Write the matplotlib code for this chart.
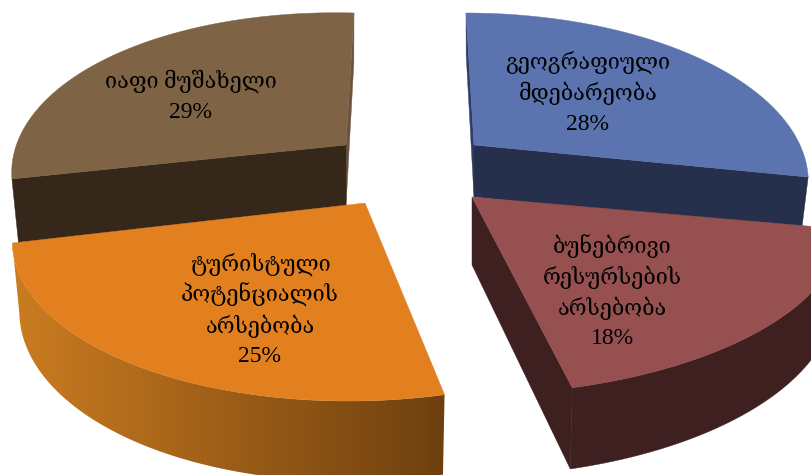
import numpy as np
import matplotlib
matplotlib.use('Agg')
import matplotlib.pyplot as plt
from matplotlib.colors import LinearSegmentedColormap
from matplotlib.patches import Polygon

labels = ['გეოგრაფიული\nმდებარეობა', 'ბუნებრივი\nრესურსების\nარსებობა',
          'ტურისტული\nპოტენციალის\nარსებობა', 'იაფი მუშახელი']
values = [28, 18, 25, 29]

top_colors = ['#5b74af', '#95504f', '#e28020', '#7f6345']
side_colors = ['#262f4b', '#3e2020', '#6e400f', '#36271b']
cut_colors = ['#2f3d66', '#3e2020', '#6e400f', '#6b5340']

# per slice layout: apex x, apex y, rx, shear, tilt, depth
layout = [
	(474, 145, 326, -10, 0, 52),
	(472, 197, 365, 7, 0, 68),
	(365, 203, 342, 19, 3, 67),
	(346, 145, 326, 10, 9, 62),
]
label_pos = [(588, 62), (612, 246), (260, 264), (191, 81)]
RY = 165
K = 0.2
LINE = 31
INSET = 0.98

def rim(theta, lay, lower=False):
	cx, cy, rx, sh, tilt, depth = lay
	c, s = np.cos(theta), np.sin(theta)
	scale = 1 - K * c
	x = (rx * s + sh * c) * scale
	y = (-RY * c + tilt * s) * scale
	if lower:
		return cx + x * INSET, cy + y + depth * scale
	return cx + x, cy + y

def pts(theta, lay, lower=False):
	x, y = rim(theta, lay, lower)
	return np.column_stack([x, y])

fig = plt.figure(figsize=(8.12, 4.75), dpi=100)
ax = fig.add_axes([0, 0, 1, 1])
ax.axis('off')

edges = np.radians(np.cumsum([0] + values) * 3.6)

def apex(lay, lower=False):
	return np.array([[lay[0], lay[1] + (lay[5] if lower else 0)]])

def cut_face(th, lay, color, z):
	th = np.array([th])
	poly = np.vstack([apex(lay), pts(th, lay), pts(th, lay, True), apex(lay, True)])
	ax.add_patch(Polygon(poly, closed=True, fc=color, ec=color, lw=0.3, zorder=z))

def draw_slice(i, z):
	lay = layout[i]
	a, b = edges[i], edges[i + 1]
	th = np.linspace(a, b, 160)
	wall = np.vstack([pts(th, lay), pts(th, lay, True)[::-1]])
	if i == 0:
		cut_face(a, lay, cut_colors[i], z)
		cut_face(b, lay, side_colors[i], z)
	elif i == 3:
		cut_face(b, lay, cut_colors[i], z)
		cut_face(a, lay, side_colors[i], z)
	elif i == 1:
		cut_face(b, lay, side_colors[i], z)
		ax.add_patch(Polygon(wall, closed=True, fc=side_colors[i], ec=side_colors[i], lw=0.3, zorder=z))
	else:
		# orange wall is shaded from left to right
		cmap = LinearSegmentedColormap.from_list('wall', ['#cb7c20', side_colors[i]])
		clip = Polygon(wall, closed=True, transform=ax.transData, fc='none', ec='none')
		ax.add_patch(clip)
		grad = np.linspace(0, 1, 256).reshape(1, -1)
		im = ax.imshow(grad, cmap=cmap, aspect='auto', zorder=z, interpolation='bilinear',
			extent=(wall[:, 0].min(), wall[:, 0].max(), wall[:, 1].max(), wall[:, 1].min()))
		im.set_clip_path(clip)
	poly = np.vstack([apex(lay), pts(th, lay)])
	ax.add_patch(Polygon(poly, closed=True, fc=top_colors[i], ec=top_colors[i], lw=0.3, zorder=z + 1))

draw_slice(3, 1)
draw_slice(0, 3)
draw_slice(1, 5)
draw_slice(2, 7)

fonts = ['Liberation Serif', 'DejaVu Serif', 'DejaVu Sans']
for lab, val, (x, y) in zip(labels, values, label_pos):
	lines = lab.split('\n') + [f'{val}%']
	for n, line in enumerate(lines):
		ax.text(x, y + n * LINE, line, ha='center', va='center', fontsize=17 if n == len(lines) - 1 else 15.6,
			family=fonts, color='black', zorder=20)

ax.set_xlim(0, 812)
ax.set_ylim(475, 0)
fig.savefig('out.png', dpi=100)
